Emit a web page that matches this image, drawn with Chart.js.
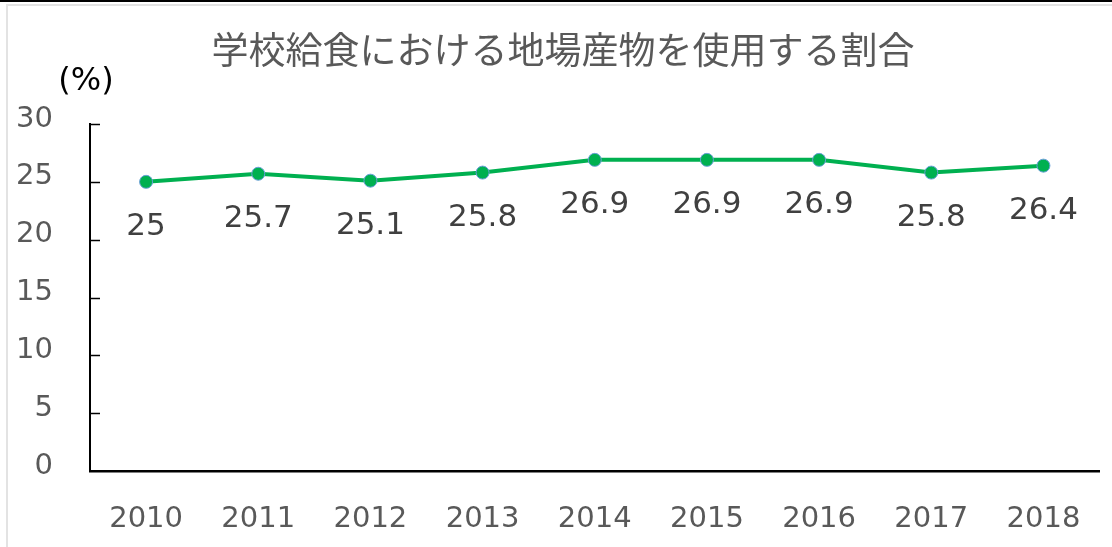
<!DOCTYPE html>
<html lang="ja">
<head>
<meta charset="utf-8">
<title>学校給食における地場産物を使用する割合</title>
<script src="https://cdn.jsdelivr.net/npm/chart.js@4"></script>
<style>
  html, body { margin: 0; padding: 0; background: #fff; }
  .wrap { position: relative; width: 1112px; height: 547px; overflow: hidden; }
  .topbar { position: absolute; left: 0; top: 0; width: 1112px; height: 2px; background: #000; }
  .frame { position: absolute; left: 6px; top: 4px; width: 1120px; height: 560px; border: 2px solid #e3e3e3; box-sizing: border-box; }
  canvas { position: absolute; left: 0; top: 0; }
</style>
</head>
<body>
<div class="wrap">
  <div class="topbar"></div>
  <div class="frame"></div>
  <canvas id="rateChart" width="1112" height="547"></canvas>
</div>
<script>
const years = ["2010", "2011", "2012", "2013", "2014", "2015", "2016", "2017", "2018"];
const localRates = [25, 25.7, 25.1, 25.8, 26.9, 26.9, 26.9, 25.8, 26.4];
const yTicks = [0, 5, 10, 15, 20, 25, 30];

const chartTitle = "学校給食における地場産物を使用する割合";
const unitLabel = "(%)";

const numFont = "'DejaVu Sans', Verdana, sans-serif";

// title, unit label, inner tick marks and value labels
const decorPlugin = {
  id: "decor",
  afterDraw(chart) {
    const ctx = chart.ctx;
    const yScale = chart.scales.y;
    const area = chart.chartArea;
    ctx.save();

    ctx.fillStyle = "#595959";
    ctx.font = "37px 'Noto Sans CJK JP', sans-serif";
    ctx.textAlign = "center";
    ctx.textBaseline = "middle";
    ctx.fillText(chartTitle, 563, 50);

    ctx.fillStyle = "#000";
    ctx.font = "32px " + numFont;
    ctx.fillText(unitLabel, 86, 82);

    // tick marks point into the plot area
    ctx.strokeStyle = "#000";
    ctx.lineWidth = 1.5;
    yTicks.forEach((v) => {
      if (v === 0) return;
      const y = Math.round(yScale.getPixelForValue(v)) + 0.5;
      ctx.beginPath();
      ctx.moveTo(area.left, y);
      ctx.lineTo(area.left + 10, y);
      ctx.stroke();
    });

    // value labels under each point
    const meta = chart.getDatasetMeta(0);
    ctx.fillStyle = "#404040";
    ctx.font = "31px " + numFont;
    meta.data.forEach((pt, i) => {
      ctx.fillText(String(localRates[i]), pt.x, pt.y + 45);
    });
    ctx.restore();
  },
};

const ctx = document.getElementById("rateChart").getContext("2d");
new Chart(ctx, {
  type: "line",
  data: {
    labels: years,
    datasets: [
      {
        data: localRates,
        borderColor: "#00B050",
        borderWidth: 4,
        backgroundColor: "#00B050",
        pointBackgroundColor: "#00B050",
        pointBorderColor: "#6A9FD8",
        pointBorderWidth: 1,
        pointRadius: 6.5,
        tension: 0,
        clip: false,
      },
    ],
  },
  options: {
    responsive: false,
    animation: false,
    layout: { padding: { top: 124, right: 12, left: 0, bottom: 0 } },
    plugins: {
      legend: { display: false },
      tooltip: { enabled: false },
      title: { display: false },
    },
    scales: {
      x: {
        offset: true,
        grid: { display: false, drawTicks: false },
        border: { display: true, color: "#000", width: 2.5 },
        ticks: {
          color: "#595959",
          padding: 31,
          font: { family: numFont, size: 29 },
          maxRotation: 0,
        },
        afterFit(scale) {
          scale.height = 76;
        },
      },
      y: {
        min: 0,
        max: 30,
        grid: { display: false, drawTicks: false },
        border: { display: true, color: "#000", width: 2 },
        ticks: {
          stepSize: 5,
          color: "#595959",
          padding: 37,
          labelOffset: -5,
          font: { family: numFont, size: 29 },
        },
        afterFit(scale) {
          scale.width = 90;
        },
      },
    },
  },
  plugins: [decorPlugin],
});
</script>
</body>
</html>
